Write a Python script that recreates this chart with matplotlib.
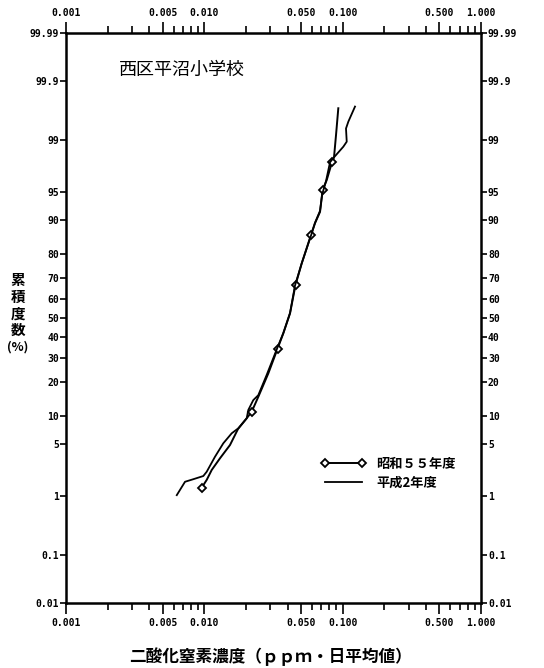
import numpy as np
import matplotlib
matplotlib.use("Agg")
import matplotlib.pyplot as plt
from statistics import NormalDist

#data: concentration (ppm) and cumulative frequency (%)
s55_conc = [0.00957, 0.0104, 0.01131, 0.01298, 0.01533, 0.01751, 0.02024, 0.0220,
            0.02456, 0.02901, 0.03381, 0.03724, 0.04163, 0.04561, 0.05057, 0.05904,
            0.0631, 0.0686, 0.07175, 0.07666, 0.08373, 0.08658, 0.08952, 0.0930]
s55_pct = [1.34, 1.73, 2.37, 3.36, 4.87, 7.37, 9.53, 11.07,
           15.2, 23.5, 34.4, 42.1, 52.4, 66.7, 76.2, 86.1,
           89.2, 91.7, 95.3, 96.4, 97.9, 98.2, 99.15, 99.69]
s55_marks = [0, 7, 10, 13, 15, 18, 20]

h2_conc = [0.00632, 0.00725, 0.00832, 0.00983, 0.0104, 0.01194, 0.01371, 0.01577,
           0.0176, 0.02024, 0.02079, 0.02259, 0.02456, 0.02824, 0.03369, 0.03724,
           0.04163, 0.04523, 0.05057, 0.05904, 0.0631, 0.0686, 0.07093, 0.07578,
           0.08104, 0.08658, 0.1011, 0.1070, 0.1057, 0.1099, 0.1228]
h2_pct = [1.04, 1.63, 1.77, 1.96, 2.24, 3.51, 5.10, 6.62,
          7.50, 9.53, 11.5, 14.2, 15.7, 22.9, 34.8, 42.2,
          52.6, 66.4, 76.2, 85.9, 89.3, 91.9, 94.6, 96.3,
          97.9, 98.2, 98.73, 98.93, 99.33, 99.48, 99.71]

y_ticks = [0.01, 0.1, 1, 5, 10, 20, 30, 40, 50, 60, 70, 80, 90, 95, 99, 99.9, 99.99]
y_labels = ["0.01", "0.1", "1", "5", "10", "20", "30", "40", "50", "60", "70", "80",
            "90", "95", "99", "99.9", "99.99"]
x_ticks = [0.001, 0.005, 0.010, 0.050, 0.100, 0.500, 1.000]
x_labels = ["0.001", "0.005", "0.010", "0.050", "0.100", "0.500", "1.000"]

title = "西区平沼小学校"
xlabel = "二酸化窒素濃度（ｐｐｍ・日平均値）"
legend_names = ["昭和５５年度", "平成2年度"]

cjk = ["Noto Sans CJK JP", "DejaVu Sans"]
tickfont = dict(family="DejaVu Sans Mono", weight="bold", size=7)

#normal probability scale for the y axis
nd = NormalDist()
_ppf = np.vectorize(nd.inv_cdf, otypes=[float])
_cdf = np.vectorize(nd.cdf, otypes=[float])

def forward(p):
    p = np.clip(np.asarray(p, dtype=float) / 100.0, 1e-7, 1 - 1e-7)
    return _ppf(p)

def inverse(z):
    return _cdf(np.asarray(z, dtype=float)) * 100.0

fig = plt.figure(figsize=(5.44, 6.68), dpi=100)
ax = fig.add_axes([66/544, 1-603/668, (481-66)/544, (603-33)/668])

ax.set_xscale("log")
ax.set_yscale("function", functions=(forward, inverse))
ax.set_xlim(0.001, 1.0)
ax.set_ylim(0.01, 99.99)

ax.plot(s55_conc, s55_pct, color="black", lw=1.4, marker="D", markersize=4,
        markerfacecolor="white", markeredgecolor="black", markeredgewidth=1.3,
        markevery=s55_marks, label=legend_names[0])
ax.plot(h2_conc, h2_pct, color="black", lw=1.3, label=legend_names[1])

#x ticks on top and bottom
ax.set_xticks(x_ticks)
ax.set_xticklabels(x_labels, **tickfont)
minor = [m * d for d in (0.001, 0.01, 0.1) for m in (2, 3, 4, 6, 7, 8, 9)]
ax.set_xticks(minor, minor=True)
ax.xaxis.set_minor_formatter(matplotlib.ticker.NullFormatter())
ax.tick_params(axis="x", which="major", direction="out", length=8, width=1.2,
               top=True, labeltop=True, pad=3)
ax.tick_params(axis="x", which="minor", direction="out", length=5, width=1.2,
               top=True)

#y ticks left and right
ax.set_yticks(y_ticks)
ax.set_yticklabels(y_labels, **tickfont)
ax.yaxis.set_minor_locator(matplotlib.ticker.NullLocator())
ax.tick_params(axis="y", direction="out", length=4, width=1.2,
               right=True, labelright=True, pad=1)

for sp in ax.spines.values():
    sp.set_linewidth(1.8)

ax.text(0.128, 0.936, title, transform=ax.transAxes, family=cjk, fontsize=13,
        va="center", ha="left")

fig.text(270/544, 1-657/668, xlabel, family=cjk, fontsize=12, weight="bold",
         ha="center", va="center")
fig.text(18/544, 1-305/668, "累\n積\n度\n数", family=cjk, fontsize=10.5,
         weight="bold", ha="center", va="center", linespacing=1.05)
fig.text(18/544, 1-347/668, "(%)", family=cjk, fontsize=9, weight="bold",
         ha="center", va="center")

leg = ax.legend(loc="upper left", bbox_to_anchor=(0.585, 0.277), frameon=False,
                numpoints=2, handlelength=3.4, handletextpad=0.8, labelspacing=0.35,
                prop=dict(family=cjk, size=9.5, weight="bold"))

fig.savefig("out.png", dpi=100)
